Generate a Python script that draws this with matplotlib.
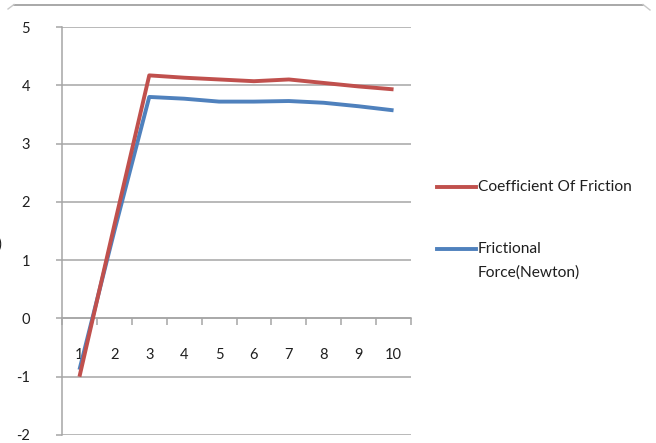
import numpy as np
import matplotlib
matplotlib.use('Agg')
import matplotlib.pyplot as plt
from matplotlib.lines import Line2D

plt.rcParams['font.family'] = ['Lato', 'DejaVu Sans']

trials = [1, 2, 3, 4, 5, 6, 7, 8, 9, 10]
coef_friction = [-1.0, 1.6, 4.17, 4.13, 4.10, 4.07, 4.10, 4.04, 3.98, 3.93]
frict_force = [-0.88, 1.5, 3.80, 3.77, 3.72, 3.72, 3.73, 3.70, 3.64, 3.57]
y_ticks = [-2, -1, 0, 1, 2, 3, 4, 5]

red = '#c0504d'
blue = '#4f81bd'
grid_c = '#a6a6a6'
txt_c = '#1f1f1f'

fig = plt.figure(figsize=(6.56, 4.43), dpi=100)
ax = fig.add_axes([62/656, 1-435/443, (411-62)/656, (435-27)/443])

x = np.array(trials)
ax.plot(x, frict_force, color=blue, lw=2.8, solid_capstyle='butt', zorder=3)
ax.plot(x, coef_friction, color=red, lw=2.8, solid_capstyle='butt', zorder=4)

ax.set_xlim(0.5, 10.5)
ax.set_ylim(-2, 5)
ax.set_yticks(y_ticks)
ax.set_yticklabels([str(v) for v in y_ticks])
ax.yaxis.grid(True, color=grid_c, lw=1.1)
ax.set_axisbelow(True)

# category axis sits on the zero line
ax.spines['bottom'].set_position(('data', 0))
ax.spines['bottom'].set_color(grid_c)
ax.spines['bottom'].set_linewidth(1.1)
ax.spines['left'].set_color(grid_c)
ax.spines['left'].set_linewidth(1.1)
ax.spines['top'].set_visible(False)
ax.spines['right'].set_visible(False)

ax.set_xticks(np.arange(0.5, 10.6, 1.0), minor=False)
ax.set_xticklabels([])
ax.set_xticks(x, minor=True)
ax.set_xticklabels([str(t) for t in trials], minor=True)
ax.tick_params(axis='x', which='major', direction='out', length=5, width=1.1, color=grid_c)
ax.tick_params(axis='x', which='minor', length=0, pad=21, labelsize=10.5, labelcolor=txt_c)
ax.tick_params(axis='y', direction='out', length=4, width=1.1, color=grid_c,
               pad=19, labelsize=10.5, labelcolor=txt_c)

# legend on the right
lx0, lx1 = 437/656, 476/656
fig.add_artist(Line2D([lx0, lx1], [1-187/443]*2, color=red, lw=2.8))
fig.add_artist(Line2D([lx0, lx1], [1-249/443]*2, color=blue, lw=2.8))
fig.text(478/656, 1-187/443, 'Coefficient Of Friction', fontsize=11.2, color=txt_c, va='center')
fig.text(478/656, 1-249/443, 'Frictional', fontsize=11.2, color=txt_c, va='center')
fig.text(478/656, 1-273/443, 'Force(Newton)', fontsize=11.2, color=txt_c, va='center')

# clipped axis title remnant and chart frame
fig.text(-0.004, 1-245/443, ')', fontsize=10.5, color=txt_c, va='center')
fig.add_artist(Line2D([14/656, 643/656], [1-4.5/443]*2, color='#9a9a9a', lw=1.2))
fig.add_artist(Line2D([8/656, 14/656], [1-9/443, 1-4.5/443], color='#c8c8c8', lw=1.0))
fig.add_artist(Line2D([643/656, 650/656], [1-4.5/443, 1-10/443], color='#c8c8c8', lw=1.0))

fig.savefig('out.png', dpi=100)
